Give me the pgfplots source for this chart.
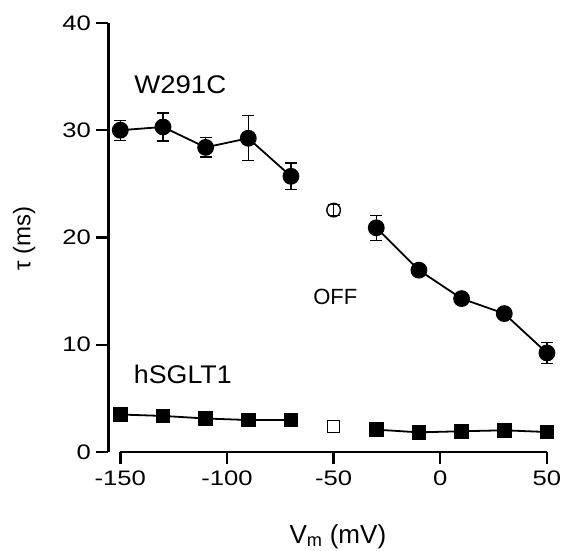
\documentclass[border=0pt]{standalone}
\usepackage{fontspec}
\setmainfont{Liberation Sans}
\usepackage{pgfplots}
\pgfplotsset{compat=1.18}
\begin{document}
\begin{tikzpicture}
\begin{axis}[
  scale only axis, width=449pt, height=428.8pt,
  xmin=-155.6, xmax=55, ymin=0, ymax=40,
  axis line style={draw=none},
  xtick={-150,-100,-50,0,50},
  ytick={0,10,20,30,40},
  /pgf/number format/assume math mode=true,
  tick align=outside, major tick length=12pt,
  every tick/.style={black, line width=2.4pt},
  xtick pos=bottom, ytick pos=left,
  tick label style={font=\fontsize{21}{25}\selectfont, xscale=1.22},
  xticklabel style={yshift=-3pt},
  yticklabel style={xshift=-1pt},
  clip=false,
]
\coordinate (bbLL) at (axis cs:-206.4,-9.17);
\coordinate (bbUR) at (axis cs:56.6,42.14);
\draw[line width=2.4pt] (axis cs:-150,0) -- (axis cs:50,0);
\draw[line width=2.4pt] (axis cs:-155.6,0) -- (axis cs:-155.6,40);

% W291C, first segment
\addplot[black, line width=1.8pt, mark=*, mark size=7.5pt,
  error bars/.cd, y dir=both, y explicit, error mark options={rotate=90, mark size=6pt, line width=1.2pt},
  error bar style={line width=1.2pt}]
  coordinates {(-150,30.0) +- (0,0.93) (-130,30.3) +- (0,1.3) (-110,28.4) +- (0,0.9) (-90,29.25) +- (0,2.1) (-70,25.7) +- (0,1.25)};
% open circle
\addplot[black, only marks, mark=o, mark size=6.8pt, mark options={line width=1.4pt},
  error bars/.cd, y dir=both, y explicit, error mark options={rotate=90, mark size=6pt, line width=1.2pt},
  error bar style={line width=1.2pt}]
  coordinates {(-50,22.55) +- (0,0.5)};
% W291C, second segment
\addplot[black, line width=1.8pt, mark=*, mark size=7.5pt,
  error bars/.cd, y dir=both, y explicit, error mark options={rotate=90, mark size=6pt, line width=1.2pt},
  error bar style={line width=1.2pt}]
  coordinates {(-30,20.9) +- (0,1.15) (-10,16.95) +- (0,0) (10,14.3) +- (0,0) (30,12.9) +- (0,0) (50,9.23) +- (0,0.95)};

% hSGLT1
\addplot[black, line width=1.8pt, mark=square*, mark size=6.5pt]
  coordinates {(-150,3.49) (-130,3.36) (-110,3.12) (-90,2.98) (-70,2.98)};
\addplot[black, only marks, mark=square, mark size=6pt, mark options={line width=1.4pt}]
  coordinates {(-50,2.4)};
\addplot[black, line width=1.8pt, mark=square*, mark size=6.5pt]
  coordinates {(-30,2.08) (-10,1.83) (10,1.93) (30,2.02) (50,1.86)};

\node[font=\fontsize{25.5}{30}\selectfont, xscale=1.08] at (axis cs:-121.9,34.2) {W291C};
\node[font=\fontsize{25.5}{30}\selectfont, xscale=1.05] at (axis cs:-120.7,7.25) {hSGLT1};
\node[font=\fontsize{22}{26}\selectfont] at (axis cs:-49.2,14.46) {OFF};
\node[font=\fontsize{26}{30}\selectfont, anchor=base] at (axis cs:-48,-8.5) {V\textsubscript{m} (mV)};
\node[font=\fontsize{24}{28}\selectfont, rotate=90] at (axis cs:-195.1,19.93) {τ (ms)};
\end{axis}
\pgfresetboundingbox
\path (bbLL) rectangle (bbUR);
\end{tikzpicture}
\end{document}
